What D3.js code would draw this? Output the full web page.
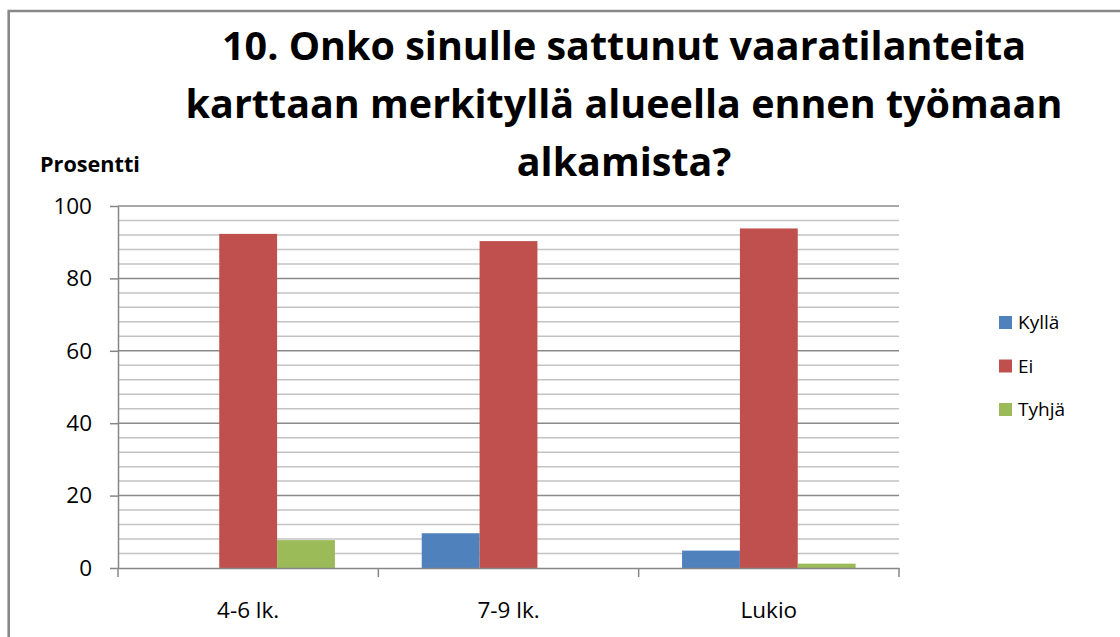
<!DOCTYPE html>
<html>
<head>
<meta charset="utf-8">
<script src="https://cdn.jsdelivr.net/npm/d3@7"></script>
<style>
  body { margin: 0; background: #fff; }
  svg { display: block; }
</style>
</head>
<body>
<div id="chart"></div>
<script>
// Chart data
var categories = ["4-6 lk.", "7-9 lk.", "Lukio"];
var seriesNames = ["Kyllä", "Ei", "Tyhjä"];
var kylla = [0, 9.6, 4.8];
var ei = [92.3, 90.3, 93.8];
var tyhja = [7.7, 0, 1.2];
var yTicks = [0, 20, 40, 60, 80, 100];
var titleLines = [
    "10. Onko sinulle sattunut vaaratilanteita",
    "karttaan merkityllä alueella ennen työmaan",
    "alkamista?"
];
var yLabel = "Prosentti";

var colors = ["#4F81BD", "#C0504D", "#9BBB59"];
var seriesValues = [kylla, ei, tyhja];

var svgWidth = 1120;
var svgHeight = 637;

var svg = d3.select("#chart")
    .append("svg")
    .attr("width", svgWidth)
    .attr("height", svgHeight);

// Plot area
var margin = { top: 206, left: 118, right: 221, bottom: 69 };
var chartWidth = svgWidth - margin.left - margin.right;
var chartHeight = svgHeight - margin.top - margin.bottom;

// Outer frame (only top and left edges are visible)
svg.append("path")
    .attr("d", "M8.7," + (svgHeight + 5) + " V11 H" + (svgWidth + 5))
    .attr("fill", "none")
    .attr("stroke", "#888")
    .attr("stroke-width", 2.6);

var chartGroup = svg.append("g")
    .attr("transform", `translate(${margin.left}, ${margin.top})`);

var x0 = d3.scaleBand()
    .domain(categories)
    .range([0, chartWidth]);

// gap width 150% of a bar
var barW = x0.bandwidth() / (seriesNames.length + 1.5);
var x1 = d3.scaleBand()
    .domain(seriesNames)
    .range([0, barW * seriesNames.length]);

var y = d3.scaleLinear()
    .domain([0, 100])
    .range([chartHeight, 0]);

// Minor gridlines every 4
var minor = d3.range(4, 100, 4).filter(d => d % 20 !== 0);
chartGroup.append("g").selectAll("line")
    .data(minor)
    .enter()
    .append("line")
    .attr("x1", 0)
    .attr("x2", chartWidth)
    .attr("y1", d => y(d))
    .attr("y2", d => y(d))
    .attr("stroke", "#c3c3c3")
    .attr("stroke-width", 1.5);

// Major gridlines
chartGroup.append("g").selectAll("line")
    .data(yTicks.filter(d => d > 0))
    .enter()
    .append("line")
    .attr("x1", 0)
    .attr("x2", chartWidth)
    .attr("y1", d => y(d))
    .attr("y2", d => y(d))
    .attr("stroke", "#8a8a8a")
    .attr("stroke-width", 1.5);

// Bars
var groups = chartGroup.selectAll(".cat")
    .data(categories)
    .enter()
    .append("g")
    .attr("class", "cat")
    .attr("transform", d => `translate(${x0(d) + (x0.bandwidth() - barW * seriesNames.length) / 2}, 0)`);

groups.selectAll("rect")
    .data((c, i) => seriesNames.map((s, j) => ({ s: s, v: seriesValues[j][i], c: colors[j] })))
    .enter()
    .append("rect")
    .attr("x", d => x1(d.s))
    .attr("width", x1.bandwidth())
    .attr("y", d => y(d.v))
    .attr("height", d => chartHeight - y(d.v))
    .attr("fill", d => d.c);

// Y axis
var yAxis = d3.axisLeft(y)
    .tickValues(yTicks)
    .tickSize(8)
    .tickPadding(18)
    .tickSizeOuter(0);

var yG = chartGroup.append("g").call(yAxis);
yG.select(".domain").attr("stroke", "#868686").attr("stroke-width", 1.5);
yG.selectAll(".tick line").attr("stroke", "#868686").attr("stroke-width", 1.5);
yG.selectAll(".tick text")
    .attr("font-family", "'Open Sans', sans-serif")
    .attr("font-size", 22.5)
    .attr("fill", "#000");

// X axis
var xAxis = d3.axisBottom(x0)
    .tickSize(0)
    .tickPadding(34)
    .tickSizeOuter(0);

var xG = chartGroup.append("g")
    .attr("transform", "translate(0, " + chartHeight + ")")
    .call(xAxis);
xG.select(".domain").attr("stroke", "#868686").attr("stroke-width", 1.5);
xG.selectAll(".tick text")
    .attr("font-family", "'Open Sans', sans-serif")
    .attr("font-size", 22.5)
    .attr("fill", "#000");

// Tick marks on category boundaries
xG.append("g").selectAll("line")
    .data(d3.range(categories.length + 1))
    .enter()
    .append("line")
    .attr("x1", d => d * x0.bandwidth())
    .attr("x2", d => d * x0.bandwidth())
    .attr("y1", 0)
    .attr("y2", 9)
    .attr("stroke", "#868686")
    .attr("stroke-width", 1.5);

// Fits a text element to a target width by scaling its font size
function fitWidth(sel, target) {
    var fs = +sel.attr("font-size");
    var w = sel.node().getComputedTextLength();
    sel.attr("font-size", fs * target / w);
}

// Title
var titleWidths = [812, 877, 172];
titleLines.forEach(function(t, i) {
    var tx = svg.append("text")
        .attr("x", 624)
        .attr("y", 60 + i * 58)
        .attr("text-anchor", "middle")
        .attr("font-family", "'Liberation Sans Narrow', 'Open Sans', sans-serif")
        .attr("font-weight", "bold")
        .attr("font-size", 42)
        .attr("fill", "#000")
        .text(t);
    if (i === 1) fitWidth(tx, titleWidths[i]);
});
// other lines share the fitted size of the longest line
var fitted = svg.selectAll("text").filter((d, i, n) => n[i].textContent === titleLines[1]).attr("font-size");
svg.selectAll("text").filter((d, i, n) => titleLines.indexOf(n[i].textContent) >= 0).attr("font-size", fitted);

// Y axis title
var yt = svg.append("text")
    .attr("x", 40)
    .attr("y", 172)
    .attr("font-family", "'Open Sans', sans-serif")
    .attr("font-weight", "bold")
    .attr("font-size", 22)
    .attr("fill", "#000")
    .text(yLabel);
fitWidth(yt, 100);

// Legend
var legend = svg.append("g")
    .attr("transform", "translate(999, 316)");

var legendItems = legend.selectAll("g")
    .data(seriesNames)
    .enter()
    .append("g")
    .attr("transform", (d, i) => `translate(0, ${i * 43.5})`);

legendItems.append("rect")
    .attr("width", 13)
    .attr("height", 13)
    .attr("fill", (d, i) => colors[i]);

legendItems.append("text")
    .attr("x", 19)
    .attr("y", 13)
    .attr("font-family", "'Open Sans', sans-serif")
    .attr("font-size", 19)
    .attr("fill", "#000")
    .text(d => d);
</script>
</body>
</html>
